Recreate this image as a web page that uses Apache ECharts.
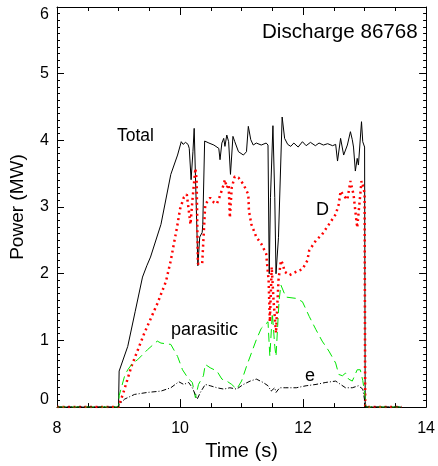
<!DOCTYPE html>
<html>
<head>
<meta charset="utf-8">
<script src="https://cdn.jsdelivr.net/npm/echarts@6/dist/echarts.min.js"></script>
<style>
  html, body { margin: 0; padding: 0; background: #fff; }
  #main { width: 438px; height: 466px; }
</style>
</head>
<body>
<div id="main"></div>
<script>
// time (s), power (MW)
const total = [
  [8, 0], [9.0, 0], [9.01, 0.54], [9.15, 0.91], [9.27, 1.43], [9.39, 1.95], [9.46, 2.12], [9.52, 2.25],
  [9.69, 2.74], [9.85, 3.49], [9.96, 3.78], [10.02, 3.98], [10.05, 3.94], [10.09, 3.97], [10.13, 3.94],
  [10.15, 3.88], [10.18, 3.41], [10.21, 3.83], [10.23, 4.18], [10.29, 2.12], [10.32, 2.55], [10.36, 2.62],
  [10.37, 2.74], [10.40, 3.99], [10.47, 3.96], [10.55, 3.93], [10.63, 3.88], [10.65, 3.71], [10.68, 3.96],
  [10.71, 4.03], [10.73, 3.91], [10.76, 4.08], [10.79, 3.98], [10.82, 3.49], [10.86, 4.06], [10.89, 3.98],
  [10.95, 3.83], [11.03, 3.78], [11.08, 3.83], [11.11, 4.21], [11.15, 4.01], [11.19, 3.93], [11.24, 3.96],
  [11.32, 3.93], [11.40, 3.96], [11.43, 3.93], [11.45, 2.0], [11.47, 3.14], [11.51, 4.22], [11.54, 3.14],
  [11.56, 2.0], [11.60, 2.54], [11.66, 4.35], [11.70, 4.03], [11.75, 3.94], [11.80, 3.91], [11.85, 3.96],
  [11.92, 3.90], [11.99, 3.98], [12.05, 3.92], [12.12, 3.97], [12.20, 3.92], [12.26, 3.96], [12.33, 3.93],
  [12.40, 3.95], [12.48, 3.92], [12.53, 3.94], [12.56, 3.69], [12.61, 4.03], [12.66, 3.78], [12.72, 3.93],
  [12.77, 4.13], [12.80, 4.01], [12.82, 3.90], [12.85, 3.54], [12.88, 3.73], [12.90, 3.63], [12.95, 4.28],
  [12.97, 3.98], [13.0, 3.90], [13.01, 0], [13.6, 0]
];
const deuterium = [
  [8, 0], [9.0, 0], [9.08, 0.22], [9.21, 0.61], [9.42, 1.11], [9.63, 1.55], [9.77, 1.88], [9.85, 2.2],
  [9.90, 2.45], [9.95, 2.69], [10.0, 2.97], [10.06, 3.14], [10.11, 3.19], [10.17, 2.74], [10.20, 3.09],
  [10.25, 3.58], [10.27, 3.4], [10.29, 2.15], [10.36, 2.15], [10.41, 3.04], [10.49, 3.14], [10.55, 3.07],
  [10.60, 3.05], [10.65, 3.17], [10.71, 3.34], [10.73, 3.41], [10.76, 3.29], [10.79, 3.34], [10.81, 2.84],
  [10.84, 3.29], [10.89, 3.46], [10.95, 3.44], [11.03, 3.34], [11.11, 3.19], [11.12, 2.94], [11.16, 2.74],
  [11.24, 2.55], [11.32, 2.45], [11.40, 2.30], [11.44, 1.9], [11.46, 1.28], [11.49, 2.1], [11.52, 1.6],
  [11.56, 1.11], [11.60, 1.9], [11.64, 2.2], [11.67, 2.15], [11.70, 2.03], [11.78, 1.98], [11.89, 2.03],
  [11.99, 2.07], [12.07, 2.2], [12.10, 2.35], [12.21, 2.50], [12.31, 2.59], [12.42, 2.74], [12.53, 2.89],
  [12.58, 3.04], [12.61, 3.24], [12.66, 3.17], [12.72, 3.11], [12.77, 3.39], [12.82, 3.19], [12.88, 2.69],
  [12.90, 2.89], [12.95, 3.39], [12.98, 3.3], [13.0, 3.2], [13.01, 0], [13.6, 0]
];
const parasitic = [
  [8, 0], [9.0, 0], [9.01, 0.17], [9.10, 0.47], [9.15, 0.56], [9.23, 0.66], [9.31, 0.71], [9.47, 0.86],
  [9.63, 0.99], [9.69, 0.96], [9.85, 0.94], [9.96, 0.76], [10.04, 0.56], [10.14, 0.42], [10.20, 0.37],
  [10.25, 0.14], [10.30, 0.34], [10.38, 0.47], [10.41, 0.64], [10.49, 0.59], [10.60, 0.54], [10.68, 0.42],
  [10.76, 0.39], [10.84, 0.34], [10.92, 0.27], [11.00, 0.39], [11.08, 0.61], [11.16, 0.81], [11.24, 1.01],
  [11.32, 1.18], [11.43, 1.28], [11.46, 0.76], [11.50, 1.41], [11.54, 0.91], [11.56, 0.76], [11.61, 1.60],
  [11.64, 1.83], [11.72, 1.65], [11.89, 1.63], [11.99, 1.58], [12.10, 1.36], [12.21, 1.16], [12.31, 0.99],
  [12.42, 0.84], [12.53, 0.66], [12.58, 0.49], [12.64, 0.47], [12.69, 0.51], [12.74, 0.42], [12.80, 0.39],
  [12.88, 0.56], [12.93, 0.56], [12.97, 0.4], [13.0, 0.22], [13.02, 0], [13.6, 0]
];
const electron = [
  [8, 0], [9.0, 0], [9.01, 0.04], [9.10, 0.12], [9.26, 0.19], [9.47, 0.22], [9.69, 0.24], [9.85, 0.29],
  [9.98, 0.38], [10.06, 0.34], [10.14, 0.37], [10.20, 0.29], [10.28, 0.12], [10.33, 0.22], [10.41, 0.34],
  [10.49, 0.32], [10.60, 0.29], [10.71, 0.27], [10.81, 0.29], [10.92, 0.27], [11.03, 0.34], [11.14, 0.39],
  [11.24, 0.42], [11.35, 0.37], [11.43, 0.32], [11.48, 0.24], [11.54, 0.29], [11.56, 0.22], [11.62, 0.29],
  [11.72, 0.29], [11.89, 0.29], [12.05, 0.32], [12.21, 0.34], [12.37, 0.37], [12.53, 0.39], [12.61, 0.34],
  [12.69, 0.29], [12.80, 0.29], [12.90, 0.32], [12.97, 0.27], [13.0, 0.25], [13.02, 0], [13.6, 0]
];

const font = "'Liberation Sans', Arial, sans-serif";

function xAxisCfg(pos, labels) {
  return {
    type: 'value', position: pos, min: 8, max: 14, interval: 2,
    axisLine: { show: true, onZero: false, lineStyle: { color: '#000', width: 1 } },
    axisTick: { show: true, inside: true, length: 8, lineStyle: { color: '#000' } },
    minorTick: { show: true, splitNumber: 4, length: 4, lineStyle: { color: '#000' } },
    splitLine: { show: false },
    axisLabel: { show: labels, color: '#000', fontSize: 16, fontFamily: font, margin: 13 },
    name: labels ? 'Time (s)' : '',
    nameLocation: 'middle', nameGap: 31,
    nameTextStyle: { color: '#000', fontSize: 20, fontFamily: font }
  };
}
function yAxisCfg(pos, labels) {
  return {
    type: 'value', position: pos, min: 0, max: 6, interval: 1,
    axisLine: { show: true, onZero: false, lineStyle: { color: '#000', width: 1 } },
    axisTick: { show: true, inside: true, length: 7, lineStyle: { color: '#000' } },
    minorTick: { show: true, splitNumber: 10, length: 3, lineStyle: { color: '#000' } },
    splitLine: { show: false },
    axisLabel: {
      show: labels, color: '#000', fontSize: 16, fontFamily: font, margin: 8,
      verticalAlignMinLabel: 'bottom', verticalAlignMaxLabel: 'top'
    },
    name: labels ? 'Power (MW)' : '',
    nameLocation: 'middle', nameGap: 30, nameRotate: 90,
    nameTextStyle: { color: '#000', fontSize: 19, fontFamily: font }
  };
}

function lineSeries(name, data, color, width, dash) {
  return {
    name: name, type: 'line', data: data, xAxisIndex: 0, yAxisIndex: 0,
    showSymbol: false, symbol: 'none', silent: true,
    lineStyle: { color: color, width: width, type: dash }
  };
}

function label(text, x, y, size) {
  return {
    type: 'text', left: x, top: y,
    style: { text: text, fill: '#000', font: size + 'px ' + font }
  };
}

const option = {
  animation: false,
  backgroundColor: '#fff',
  grid: { left: 55, right: 10, top: 7, bottom: 55, containLabel: false },
  xAxis: [xAxisCfg('bottom', true), xAxisCfg('top', false)],
  yAxis: [yAxisCfg('left', true), yAxisCfg('right', false)],
  series: [
    lineSeries('Total', total, '#000', 1, 'solid'),
    lineSeries('D', deuterium, '#ff0000', 2.5, [2, 3.5]),
    lineSeries('parasitic', parasitic, '#00e600', 1, [9, 5]),
    lineSeries('e', electron, '#000', 1, [5, 2, 1, 2])
  ],
  graphic: [
    label('Discharge 86768', 262, 22, 20.6),
    label('Total', 117, 127, 17.5),
    label('D', 316, 201, 18),
    label('parasitic', 171, 321, 18),
    label('e', 305, 367, 18)
  ]
};

const chart = echarts.init(document.getElementById('main'));
chart.setOption(option);
</script>
</body>
</html>
